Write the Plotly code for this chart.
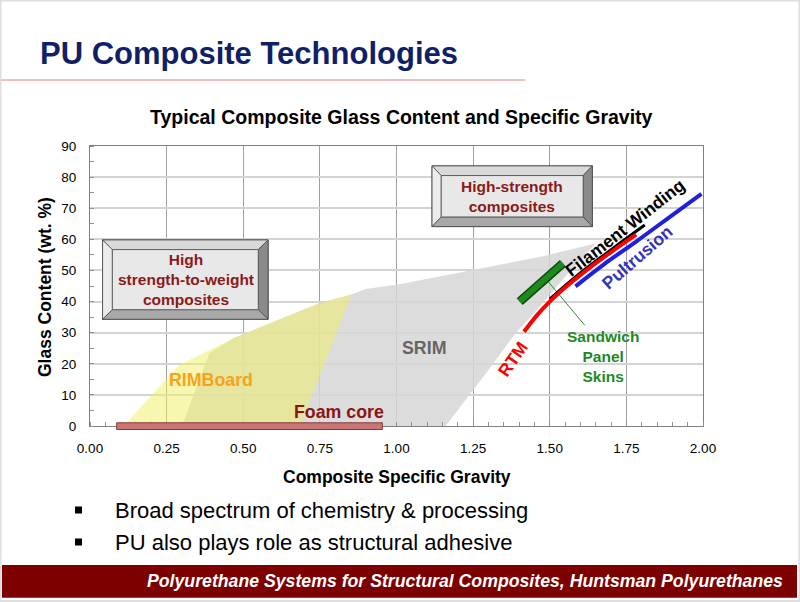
import plotly.graph_objects as go

# ---------------- data ----------------
x_ticks = [0.00, 0.25, 0.50, 0.75, 1.00, 1.25, 1.50, 1.75, 2.00]
y_ticks = [0, 10, 20, 30, 40, 50, 60, 70, 80, 90]

srim_sg = [0.30, 0.39, 0.47, 0.75, 0.853, 0.90, 1.01, 1.47, 1.65, 1.55, 1.46, 1.39, 1.30, 1.16]
srim_glass = [0, 23.5, 28.3, 39.5, 42.3, 44.0, 45.6, 54.4, 58.7, 48.0, 37.5, 30.0, 18.0, 0]

rimboard_sg = [0.11, 0.29, 0.47, 0.75, 0.853, 0.685]
rimboard_glass = [0, 19.5, 28.3, 39.5, 42.3, 0]

rtm_sg = [1.416, 1.46, 1.50, 1.55, 1.62, 1.70, 1.782]
rtm_glass = [30.3, 35.8, 40.0, 44.5, 50.1, 55.9, 61.5]

fw_sg = [1.50, 1.60, 1.706, 1.81]
fw_glass = [40.8, 49.2, 57.1, 64.6]

pult_sg = [1.584, 1.68, 1.782, 1.90, 1.995]
pult_glass = [44.9, 52.2, 59.3, 67.8, 74.6]

sandwich_sg = [1.402, 1.543]
sandwich_glass = [40.0, 52.3]

sandwich_leader_sg = [1.495, 1.614]
sandwich_leader_glass = [46.4, 32.4]

foam_sg = [0.087, 0.954]

# ---------------- layout helpers ----------------
W, H = 800, 602
L, R, T, B = 90, 703, 146, 426


def px(x):
    return (x - L) / (R - L)


def py(y):
    return (B - y) / (B - T)


FONT = "Liberation Sans, Arial, sans-serif"

fig = go.Figure()

fig.add_trace(go.Scatter(x=srim_sg, y=srim_glass, fill="toself", mode="lines",
                         line=dict(width=0), fillcolor="rgba(214,214,214,0.85)",
                         hoverinfo="skip", showlegend=False))
fig.add_trace(go.Scatter(x=rimboard_sg, y=rimboard_glass, fill="toself", mode="lines",
                         line=dict(width=0), fillcolor="rgba(240,240,95,0.5)",
                         hoverinfo="skip", showlegend=False))

fig.add_trace(go.Scatter(x=sandwich_leader_sg, y=sandwich_leader_glass, mode="lines",
                         line=dict(color="#2e8b2e", width=1), showlegend=False))
fig.add_trace(go.Scatter(x=fw_sg, y=fw_glass, mode="lines",
                         line=dict(color="#000000", width=3, shape="spline"), showlegend=False))
fig.add_trace(go.Scatter(x=pult_sg, y=pult_glass, mode="lines",
                         line=dict(color="#1f1fe0", width=4, shape="spline"), showlegend=False))
fig.add_trace(go.Scatter(x=rtm_sg, y=rtm_glass, mode="lines",
                         line=dict(color="#ff0000", width=4, shape="spline"), showlegend=False))
fig.add_trace(go.Scatter(x=sandwich_sg, y=sandwich_glass, mode="lines",
                         line=dict(color="#0b4a0b", width=9), showlegend=False))
fig.add_trace(go.Scatter(x=sandwich_sg, y=sandwich_glass, mode="lines",
                         line=dict(color="#1e8a1e", width=6), showlegend=False))

shapes = []
annotations = []

# foam core bar
shapes.append(dict(type="rect", xref="x", yref="paper", x0=foam_sg[0], x1=foam_sg[1],
                   y0=py(429.5), y1=py(422.8), fillcolor="#c97575",
                   line=dict(color="#8a3a3a", width=1), layer="above"))


def bevel_box(x0, x1, y0, y1, bx, by):
    ix0, ix1, iy0, iy1 = x0 + bx, x1 - bx, y0 + by, y1 - by
    s = []
    s.append(dict(type="rect", x0=x0, x1=x1, y0=y0, y1=y1, fillcolor="#e6e6e6",
                  line=dict(color="#4a4a4a", width=1), layer="above"))
    s.append(dict(type="path", path=f"M{x0},{y1} L{x1},{y1} L{ix1},{iy1} L{ix0},{iy1} Z",
                  fillcolor="#d9d9d9", line=dict(color="#4a4a4a", width=0.8), layer="above"))
    s.append(dict(type="path", path=f"M{x0},{y1} L{ix0},{iy1} L{ix0},{iy0} L{x0},{y0} Z",
                  fillcolor="#ececec", line=dict(color="#4a4a4a", width=0.8), layer="above"))
    s.append(dict(type="path", path=f"M{x1},{y1} L{x1},{y0} L{ix1},{iy0} L{ix1},{iy1} Z",
                  fillcolor="#8a8a8a", line=dict(color="#4a4a4a", width=0.8), layer="above"))
    s.append(dict(type="path", path=f"M{x0},{y0} L{ix0},{iy0} L{ix1},{iy0} L{x1},{y0} Z",
                  fillcolor="#a8a8a8", line=dict(color="#4a4a4a", width=0.8), layer="above"))
    s.append(dict(type="rect", x0=ix0, x1=ix1, y0=iy0, y1=iy1, fillcolor="#e8e8e8",
                  line=dict(color="#4a4a4a", width=0.8), layer="above"))
    return s


shapes += bevel_box(0.041, 0.581, 34.3, 59.8, 0.032, 3.1)
shapes += bevel_box(1.116, 1.639, 64.1, 83.6, 0.030, 3.1)

# slide decorations
shapes.append(dict(type="line", xref="paper", yref="paper", x0=px(0), x1=px(525),
                   y0=py(80), y1=py(80), line=dict(color="#f4bcbc", width=2)))
shapes.append(dict(type="rect", xref="paper", yref="paper", x0=px(2), x1=px(797),
                   y0=py(597.7), y1=py(565), fillcolor="#7d0000", line=dict(width=0)))
shapes.append(dict(type="rect", xref="paper", yref="paper", x0=px(0.5), x1=px(799.5),
                   y0=py(601), y1=py(0.5), fillcolor="rgba(0,0,0,0)",
                   line=dict(color="#dedede", width=2)))
for yb in (510, 542):
    shapes.append(dict(type="rect", xref="paper", yref="paper", x0=px(75), x1=px(82),
                       y0=py(yb + 3.5), y1=py(yb - 3.5), fillcolor="#000000",
                       line=dict(width=0)))


def ann(text, x, y, size, color, bold=True, xref="x", yref="y", angle=0,
        xanchor="center", yanchor="middle", italic=False, family=FONT):
    t = f"<b>{text}</b>" if bold else text
    if italic:
        t = f"<i>{t}</i>"
    annotations.append(dict(text=t, x=x, y=y, xref=xref, yref=yref, showarrow=False,
                            textangle=angle, xanchor=xanchor, yanchor=yanchor,
                            font=dict(size=size, color=color, family=family)))


# in-chart labels
ann("High<br>strength-to-weight<br>composites", 0.312, 47.2, 15.5, "#8b1a1a")
ann("High-strength<br>composites", 1.378, 73.7, 15.5, "#8b1a1a")
ann("RIMBoard", 0.394, 14.8, 17.8, "#f7a21b")
ann("Foam core", 0.814, 4.6, 17.8, "#8b1414")
ann("SRIM", 1.089, 25.0, 17.8, "#666666")
ann("RTM", 1.38, 21.5, 17.5, "#ff0000", angle=-55)
ann("Filament Winding", 1.744, 63.8, 17.5, "#000000", angle=-38)
ann("Pultrusion", 1.787, 54.3, 17.5, "#3535b5", angle=-41)
ann("Sandwich<br>Panel<br>Skins", 1.674, 22.3, 15.5, "#1e8a1e")

# titles
ann("PU Composite Technologies", px(38), py(53), 31, "#101f66", xref="paper", yref="paper",
    xanchor="left")
ann("Typical Composite Glass Content and Specific Gravity", px(401), py(117), 19.5, "#000000",
    xref="paper", yref="paper")
ann("Composite Specific Gravity", px(397), py(477), 17.5, "#000000", xref="paper", yref="paper")
ann("Glass Content (wt. %)", px(45), py(287), 17.5, "#000000", xref="paper", yref="paper",
    angle=-90)
ann("Broad spectrum of chemistry &amp; processing", px(113), py(510), 22, "#000000",
    bold=False, xref="paper", yref="paper", xanchor="left")
ann("PU also plays role as structural adhesive", px(113), py(542), 22, "#000000",
    bold=False, xref="paper", yref="paper", xanchor="left")
ann("Polyurethane Systems for Structural Composites, Huntsman Polyurethanes", px(785), py(581),
    17.7, "#ffffff", xref="paper", yref="paper", xanchor="right", italic=True)

fig.update_layout(
    width=W, height=H,
    margin=dict(l=L, r=W - R, t=T, b=H - B, pad=0),
    paper_bgcolor="#ffffff", plot_bgcolor="#ffffff",
    font=dict(family=FONT, size=14, color="#000000"),
    showlegend=False,
    shapes=shapes, annotations=annotations,
)
fig.update_xaxes(range=[0, 2], tickvals=x_ticks, ticktext=[f"{v:.2f}" for v in x_ticks],
                 showgrid=True, gridcolor="#a0a0a0", gridwidth=1,
                 showline=True, linecolor="#808080", linewidth=1, mirror=True,
                 ticks="", ticklabelstandoff=10, zeroline=False,
                 tickfont=dict(size=13.5, family=FONT),
                 minor=dict(dtick=0.05, ticks="inside", ticklen=4, tickcolor="#909090",
                            showgrid=False))
fig.update_yaxes(range=[0, 90], tickvals=y_ticks, showgrid=True, gridcolor="#d4d4d4",
                 gridwidth=1.5, showline=True, linecolor="#808080", linewidth=1, mirror=True,
                 ticks="", ticklabelstandoff=10, zeroline=False,
                 tickfont=dict(size=13.5, family=FONT),
                 minor=dict(dtick=5, ticks="inside", ticklen=4, tickcolor="#909090",
                            showgrid=False))

fig.write_html("out.html", config={"displayModeBar": False},
               post_script="document.body.style.margin='0px';document.body.style.overflow='hidden';")
